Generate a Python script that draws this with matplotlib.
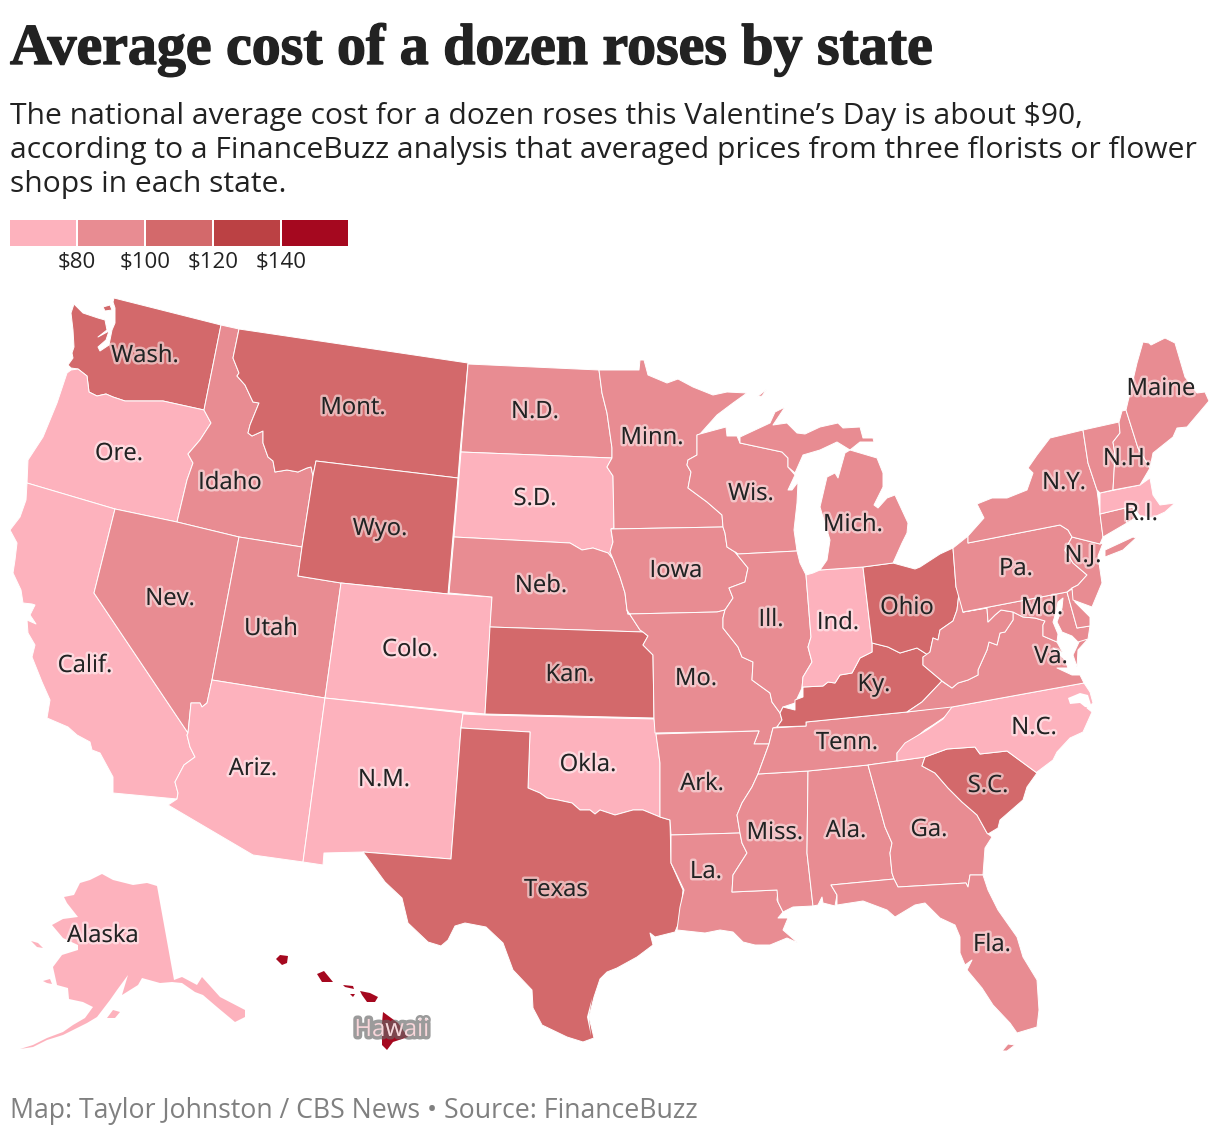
import matplotlib
matplotlib.use('Agg')
import matplotlib.pyplot as plt
import matplotlib.patheffects as pe

# legend
bin_colors = ['#fdb2bd', '#e88c92', '#d3696b', '#bb4144', '#a5081f']
bin_labels = ['$80', '$100', '$120', '$140']

# price bin per state, 0 = under $80 ... 4 = over $140
state_bins = {
    'WA': 2, 'OR': 0, 'CA': 0, 'ID': 1, 'NV': 1, 'UT': 1, 'AZ': 0, 'MT': 2, 'WY': 2, 'CO': 0, 'NM': 0,
    'ND': 1, 'SD': 0, 'NE': 1, 'KS': 2, 'OK': 0, 'TX': 2, 'MN': 1, 'IA': 1, 'MO': 1, 'AR': 1, 'LA': 1,
    'WI': 1, 'IL': 1, 'MS': 1, 'AL': 1, 'TN': 1, 'KY': 2, 'IN': 0, 'OH': 2, 'MI': 1, 'GA': 1, 'FL': 1,
    'SC': 2, 'NC': 0, 'VA': 1, 'WV': 1, 'MD': 1, 'DE': 1, 'PA': 1, 'NJ': 1, 'NY': 1, 'CT': 1, 'RI': 1,
    'MA': 0, 'VT': 1, 'NH': 1, 'ME': 1, 'AK': 0, 'HI': 4,
}

# state outlines, x/y in image pixels
WA = [(74,304),(71,313),(73,330),(74,347),(72,353),(73,358),(68,365),(71,368),(78,369),(87,376),(89,392),(97,396),(106,394),(113,397),(125,401),(137,401),(150,401),(163,401),(204,410),(221,325),(114,298),(113,302),(115,308),(115,323),(112,330),(109,345),(100,351),(98,347),(106,340),(109,331),(98,337),(107,330),(105,320),(98,318),(83,313)]
WA_ISLAND = [(103,307),(110,305),(112,310),(105,311)]
OR = [(71,370),(78,369),(87,376),(89,392),(97,396),(106,394),(113,397),(125,401),(137,401),(150,401),(163,401),(204,410),(211,423),(200,440),(188,454),(193,463),(187,480),(177,522),(115,509),(27,483),(28,460),(43,437),(57,403),(67,373)]
ID = [(221,325),(239,329),(233,358),(239,373),(237,376),(245,385),(253,402),(259,403),(250,425),(248,433),(252,436),(263,431),(263,443),(268,457),(273,461),(275,472),(287,470),(298,472),(307,468),(311,467),(313,476),(302,547),(239,537),(177,522),(187,480),(193,463),(188,454),(200,440),(211,423),(204,410)]
MT = [(239,329),(468,363),(460,452),(458,478),(316,461),(313,476),(311,467),(307,468),(298,472),(287,470),(275,472),(273,461),(268,457),(263,443),(263,431),(252,436),(248,433),(250,425),(259,403),(253,402),(245,385),(237,376),(239,373),(233,358)]
WY = [(316,461),(458,478),(448,594),(341,583),(298,576),(302,547),(313,476)]
NV = [(115,509),(177,522),(239,537),(212,680),(207,703),(202,707),(200,703),(191,703),(188,733),(94,593)]
UT = [(239,537),(302,547),(298,576),(341,583),(325,698),(212,680)]
CA = [(27,483),(115,509),(94,593),(188,733),(187,735),(190,747),(195,757),(184,765),(175,782),(178,793),(177,799),(113,793),(113,777),(100,753),(92,750),(90,742),(77,735),(68,727),(47,718),(50,700),(42,682),(32,657),(35,645),(28,633),(27,620),(36,624),(30,615),(35,605),(32,604),(23,603),(21,590),(13,573),(15,560),(17,543),(10,530),(20,517),(26,500)]
AZ = [(212,680),(325,698),(303,862),(253,855),(168,805),(177,799),(178,793),(175,782),(184,765),(195,757),(190,747),(187,735),(188,733),(191,703),(200,703),(202,707),(207,703)]
NM = [(325,698),(463,713),(461,728),(451,859),(363,852),(324,853),(323,865),(303,862)]
CO = [(341,583),(448,594),(492,597),(485,714),(325,698)]
KS = [(490,627),(643,632),(648,636),(643,645),(653,655),(654,718),(485,714)]
NE = [(454,537),(570,543),(582,550),(593,548),(608,553),(613,559),(620,577),(625,593),(627,610),(640,630),(643,632),(490,627),(492,597),(449,593)]
SD = [(461,452),(612,458),(607,467),(613,476),(614,528),(611,530),(613,542),(610,552),(613,559),(608,553),(593,548),(582,550),(570,543),(454,537)]
ND = [(468,364),(599,370),(602,393),(607,413),(612,448),(612,458),(461,452)]
MN = [(599,370),(639,370),(640,360),(644,360),(648,375),(667,383),(678,379),(693,387),(713,395),(727,392),(747,393),(733,403),(717,415),(700,434),(697,435),(697,455),(688,460),(687,465),(691,472),(688,488),(707,502),(722,515),(723,527),(611,529),(614,528),(613,476),(607,467),(612,458),(612,448),(607,413),(602,393)]
IA = [(611,529),(723,527),(725,533),(727,547),(735,552),(748,568),(745,582),(729,588),(733,598),(725,610),(717,612),(628,614),(627,610),(625,593),(620,577),(613,559),(610,552),(613,542)]
WI = [(697,435),(700,434),(726,427),(727,436),(737,436),(740,443),(782,452),(788,458),(788,467),(795,475),(788,490),(792,490),(798,482),(797,503),(794,530),(797,551),(738,554),(735,552),(727,547),(725,533),(723,527),(722,515),(707,502),(688,488),(691,472),(687,465),(688,460),(697,455)]
IL = [(738,554),(797,551),(800,563),(806,575),(811,637),(808,647),(812,662),(803,677),(802,688),(795,703),(783,707),(780,713),(772,702),(770,693),(752,680),(753,662),(742,657),(738,647),(723,628),(723,618),(725,610),(733,598),(729,588),(745,582),(748,568),(735,552)]
IN = [(806,575),(813,573),(820,570),(863,567),(872,643),(872,652),(860,658),(852,673),(840,675),(835,683),(828,682),(823,686),(803,687),(802,688),(803,677),(812,662),(808,647),(811,637)]
OH = [(863,567),(893,563),(915,569),(920,567),(940,554),(953,548),(956,587),(959,593),(957,610),(953,621),(940,630),(938,640),(933,638),(930,652),(928,655),(917,648),(900,653),(888,647),(872,643)]
KY = [(872,643),(888,647),(900,653),(917,648),(928,655),(923,657),(923,665),(942,681),(922,702),(907,712),(806,722),(806,726),(777,727),(782,720),(780,713),(783,707),(795,710),(795,700),(803,697),(803,687),(823,686),(828,682),(835,683),(840,675),(852,673),(860,658),(872,652)]
TN = [(773,728),(806,726),(806,722),(907,712),(952,706),(952,712),(933,725),(925,730),(907,745),(897,753),(897,761),(868,765),(808,771),(758,774),(765,755),(769,744)]
MO = [(628,614),(717,612),(725,610),(723,618),(723,628),(738,647),(742,657),(753,662),(752,680),(770,693),(772,702),(780,713),(782,720),(777,727),(773,728),(769,744),(754,744),(759,731),(655,733),(654,718),(653,655),(643,645),(648,636),(643,632),(640,630),(627,610)]
OK = [(463,714),(485,715),(654,719),(656,733),(660,763),(660,817),(643,810),(633,810),(615,815),(600,810),(595,814),(590,810),(580,810),(572,803),(558,800),(547,798),(540,793),(528,788),(530,732),(461,728)]
TX = [(461,728),(530,732),(528,788),(540,793),(547,798),(558,800),(572,803),(580,810),(590,810),(595,814),(600,810),(615,815),(633,810),(643,810),(660,817),(670,820),(671,863),(683,890),(680,920),(675,932),(655,937),(650,933),(653,945),(637,957),(617,968),(607,972),(600,979),(594,997),(589,1017),(594,1038),(583,1042),(567,1037),(542,1025),(533,1008),(532,990),(513,970),(503,943),(486,927),(465,923),(455,926),(448,940),(441,946),(428,942),(408,923),(402,898),(385,882),(363,852),(451,859)]
AR = [(656,734),(759,731),(754,744),(769,744),(765,755),(758,774),(752,787),(742,803),(737,815),(740,833),(671,835),(670,820),(660,817),(660,763)]
LA = [(671,835),(740,833),(742,843),(747,853),(733,875),(732,892),(778,890),(777,900),(783,912),(778,918),(788,918),(783,930),(798,943),(787,938),(770,945),(755,945),(743,942),(733,932),(720,930),(705,933),(677,930),(680,907),(684,890),(673,867),(671,863)]
MS = [(758,774),(808,771),(807,853),(813,906),(793,907),(783,912),(778,902),(777,890),(732,892),(733,875),(747,853),(742,843),(740,833),(737,815),(742,803),(752,787)]
AL = [(808,771),(868,765),(885,827),(892,843),(890,853),(892,873),(894,879),(831,885),(837,895),(835,906),(823,903),(822,897),(818,905),(813,906),(807,853)]
GA = [(868,765),(897,761),(925,757),(922,766),(935,773),(948,788),(962,802),(977,815),(987,833),(992,837),(985,848),(983,875),(970,875),(968,887),(966,883),(898,887),(894,879),(892,873),(890,853),(892,843),(885,827)]
FL = [(831,885),(894,879),(898,887),(966,883),(968,887),(970,875),(983,875),(988,890),(998,910),(1017,937),(1023,957),(1037,980),(1039,1010),(1037,1027),(1017,1033),(1010,1023),(993,1005),(982,988),(967,970),(972,960),(965,965),(960,953),(960,937),(955,925),(940,918),(925,903),(915,905),(895,917),(887,910),(863,901),(837,905),(837,895)]
FL_KEYS = [(1002,1051),(1008,1044),(1015,1045),(1007,1051)]
SC = [(922,766),(925,757),(947,749),(975,747),(980,754),(1007,751),(1037,773),(1027,787),(1023,800),(1000,820),(998,828),(988,834),(987,833),(977,815),(962,802),(948,788),(935,773)]
NC = [(897,761),(897,753),(905,743),(927,730),(943,719),(952,707),(1084,683),(1090,692),(1093,703),(1087,708),(1092,712),(1083,732),(1070,738),(1057,752),(1053,760),(1037,772),(1037,773),(1007,751),(980,754),(975,747),(947,749),(925,757)]
VA = [(907,712),(952,707),(1084,683),(1080,675),(1072,675),(1057,668),(1068,668),(1065,660),(1053,648),(1063,653),(1057,642),(1043,636),(1043,625),(1045,621),(1035,618),(1023,617),(1013,612),(1013,620),(1005,632),(1000,633),(997,645),(989,642),(987,650),(978,670),(978,675),(968,680),(958,683),(952,688),(943,682),(942,681),(922,702)]
VA_SHORE = [(1077,667),(1078,650),(1088,639),(1080,640),(1073,655)]
WV = [(923,657),(923,665),(942,681),(952,688),(958,683),(968,680),(978,675),(978,670),(987,650),(989,642),(997,645),(1000,633),(1005,632),(1013,620),(1013,612),(1001,610),(995,615),(988,622),(987,608),(963,612),(959,593),(957,610),(953,621),(940,630),(938,640),(933,638),(930,652)]
PA = [(953,548),(968,536),(968,543),(1060,525),(1068,530),(1072,537),(1065,550),(1073,563),(1087,575),(1078,585),(1072,588),(1067,592),(963,612),(956,587)]
NJ = [(1072,537),(1100,544),(1103,543),(1098,556),(1102,583),(1092,607),(1073,600),(1072,588),(1078,585),(1087,575),(1073,563),(1065,550)]
DE = [(1067,592),(1072,589),(1075,602),(1090,617),(1090,626),(1077,628)]
MD = [(963,612),(1067,592),(1077,628),(1090,626),(1088,639),(1078,642),(1072,636),(1062,632),(1057,622),(1062,608),(1063,598),(1058,602),(1056,612),(1053,622),(1058,634),(1057,642),(1043,636),(1043,625),(1045,621),(1035,618),(1023,617),(1013,612),(1001,610),(995,615),(988,622),(987,608)]
NY = [(968,536),(968,543),(1060,525),(1068,530),(1072,537),(1100,544),(1103,537),(1100,513),(1097,490),(1088,463),(1083,430),(1050,438),(1037,455),(1028,468),(1033,473),(1027,490),(1007,498),(992,498),(977,504),(984,518)]
LONG_ISLAND = [(1105,550),(1133,537),(1136,538),(1123,550),(1105,557)]
VT = [(1083,430),(1119,422),(1120,433),(1113,442),(1115,455),(1113,490),(1100,493),(1097,490),(1088,463)]
NH = [(1119,422),(1122,411),(1126,410),(1138,448),(1150,468),(1140,485),(1113,490),(1115,455),(1113,442),(1120,433)]
ME = [(1126,410),(1137,363),(1143,342),(1149,343),(1151,345),(1165,338),(1175,343),(1185,377),(1197,393),(1205,392),(1209,401),(1187,427),(1177,428),(1173,437),(1153,453),(1150,468),(1138,448)]
MA = [(1100,493),(1140,485),(1150,478),(1153,495),(1160,505),(1175,503),(1165,512),(1152,518),(1140,516),(1133,507),(1125,508),(1100,514)]
RI = [(1125,508),(1133,507),(1135,518),(1127,523)]
CT = [(1100,514),(1125,508),(1127,523),(1103,537)]
MI_UP = [(740,443),(740,437),(770,423),(775,412),(785,407),(773,425),(787,423),(797,433),(805,434),(820,427),(838,423),(843,428),(860,427),(863,438),(873,438),(874,442),(860,442),(850,450),(837,442),(820,450),(803,455),(795,473),(788,467),(788,458),(782,452)]
MI_LP = [(820,570),(863,567),(893,563),(902,543),(907,533),(908,523),(895,495),(887,498),(878,508),(874,505),(883,487),(883,473),(877,458),(850,450),(845,453),(838,478),(835,473),(827,477),(820,507),(830,540),(827,560)]
MI_ISLE = [(757,397),(767,389),(762,396)]
AK = [(157,886),(147,883),(133,885),(113,880),(102,874),(90,880),(80,883),(74,895),(64,897),(67,903),(78,917),(63,919),(52,925),(63,938),(78,945),(78,950),(62,955),(53,967),(57,985),(68,988),(69,999),(83,1002),(93,1007),(85,1018),(73,1025),(63,1032),(47,1038),(33,1045),(20,1049),(33,1047),(47,1040),(63,1035),(87,1023),(97,1017),(110,1000),(117,990),(128,975),(122,995),(138,985),(142,978),(160,983),(172,982),(182,983),(195,992),(203,995),(217,1007),(235,1022),(245,1017),(245,1010),(220,997),(202,977),(197,985),(182,977),(174,980)]
AK_ST_LAWRENCE = [(31,941),(38,943),(43,948),(37,947)]
AK_NUNIVAK = [(43,981),(50,979),(52,984),(47,983)]
AK_KODIAK = [(107,1018),(113,1010),(120,1012),(115,1018)]
HI_KAUAI = [(276,959),(280,955),(288,956),(287,963),(282,965)]
HI_OAHU = [(317,974),(324,971),(333,982),(322,982)]
HI_MOLOKAI = [(343,985),(353,986),(354,989),(345,987)]
HI_LANAI = [(350,994),(355,994),(353,997)]
HI_MAUI = [(360,991),(365,992),(370,993),(378,997),(375,1002),(367,1002),(362,995)]
HI_BIG = [(383,1012),(398,1023),(408,1037),(393,1042),(387,1050),(382,1045),(382,1023)]

state_shapes = {
    'WA': [WA, WA_ISLAND], 'OR': [OR], 'CA': [CA], 'ID': [ID], 'NV': [NV], 'UT': [UT], 'AZ': [AZ], 'MT': [MT], 'WY': [WY],
    'CO': [CO], 'NM': [NM], 'ND': [ND], 'SD': [SD], 'NE': [NE], 'KS': [KS], 'OK': [OK], 'TX': [TX], 'MN': [MN],
    'IA': [IA], 'MO': [MO], 'AR': [AR], 'LA': [LA], 'WI': [WI], 'IL': [IL], 'MS': [MS], 'AL': [AL], 'TN': [TN],
    'KY': [KY], 'IN': [IN], 'OH': [OH], 'MI': [MI_UP, MI_LP, MI_ISLE], 'GA': [GA], 'FL': [FL, FL_KEYS], 'SC': [SC],
    'NC': [NC], 'VA': [VA, VA_SHORE], 'WV': [WV], 'MD': [MD], 'DE': [DE], 'PA': [PA], 'NJ': [NJ],
    'NY': [NY, LONG_ISLAND], 'CT': [CT], 'RI': [RI], 'MA': [MA], 'VT': [VT], 'NH': [NH], 'ME': [ME],
    'AK': [AK, AK_ST_LAWRENCE, AK_NUNIVAK, AK_KODIAK],
    'HI': [HI_KAUAI, HI_OAHU, HI_MOLOKAI, HI_LANAI, HI_MAUI, HI_BIG],
}

# sounds and lagoons that cut into the land
PAMLICO = [(1068,698),(1080,693),(1088,695),(1092,708),(1085,707),(1080,703),(1070,704)]
LAGUNA = [(592,998),(587,1017),(591,1036),(589,1017)]

state_labels = ['Wash.', 'Ore.', 'Calif.', 'Idaho', 'Nev.', 'Utah', 'Ariz.', 'Mont.', 'Wyo.', 'Colo.', 'N.M.', 'N.D.',
                'S.D.', 'Neb.', 'Kan.', 'Okla.', 'Texas', 'Minn.', 'Iowa', 'Mo.', 'Ark.', 'La.', 'Wis.', 'Ill.',
                'Miss.', 'Ala.', 'Tenn.', 'Ky.', 'Ind.', 'Ohio', 'Mich.', 'Ga.', 'Fla.', 'S.C.', 'N.C.', 'Va.',
                'Md.', 'Pa.', 'N.J.', 'N.Y.', 'R.I.', 'N.H.', 'Maine', 'Alaska', 'Hawaii']
label_x = [145, 119, 85, 230, 170, 271, 253, 353, 380, 410, 384, 535, 535, 541, 570, 588, 556, 652, 676, 696, 702, 706, 751, 771,
           775, 846, 847, 874, 838, 907, 853, 929, 992, 988, 1034, 1051, 1042, 1016, 1083, 1064, 1141, 1127, 1161, 103, 392]
label_y = [355, 453, 665, 482, 598, 628, 768, 407, 528, 649, 779, 411, 498, 585, 674, 764, 889, 437, 570, 678, 783, 871, 493, 619,
           832, 830, 742, 684, 622, 607, 524, 829, 944, 785, 727, 656, 607, 568, 555, 482, 513, 458, 388, 935, 1029]

SUBTITLE = ['The national average cost for a dozen roses this Valentine\u2019s Day is about $90,',
            'according to a FinanceBuzz analysis that averaged prices from three florists or flower',
            'shops in each state.']
SUB_FONT = 'Open Sans'

fig = plt.figure(figsize=(12.2, 11.36), dpi=100)
ax = fig.add_axes([0, 0, 1, 1])
ax.set_xlim(0, 1220)
ax.set_ylim(1136, 0)
ax.axis('off')

for abbr, shapes in state_shapes.items():
    for shape in shapes:
        xs, ys = zip(*shape)
        lw = 0.7 if abbr not in ('HI', 'AK') else 0
        ax.fill(xs, ys, facecolor=bin_colors[state_bins[abbr]], edgecolor='white', linewidth=lw, joinstyle='round')

for water in (PAMLICO, LAGUNA):
    xs, ys = zip(*water)
    ax.fill(xs, ys, facecolor='white', edgecolor='none')

for lab, x, y in zip(state_labels, label_x, label_y):
    if lab == 'Hawaii':
        ax.text(x, y + 1, lab, ha='center', va='center', fontsize=17.2, family=SUB_FONT, color='#f7d6da',
                path_effects=[pe.withStroke(linewidth=5, foreground=(0.4, 0.4, 0.4, 0.65))])
    else:
        ax.text(x, y + 1, lab, ha='center', va='center', fontsize=17.2, family=SUB_FONT, color='#222222',
                path_effects=[pe.withStroke(linewidth=3.5, foreground=(1, 1, 1, 0.5))])

# legend swatches and tick labels
for i, col in enumerate(bin_colors):
    ax.add_patch(plt.Rectangle((10 + i * 68, 220), 66, 26, facecolor=col, edgecolor='none'))
for i, lab in enumerate(bin_labels):
    ax.text(77 + i * 68, 263, lab, ha='center', va='center', fontsize=16, family=SUB_FONT, color='#222222')

ax.text(10, 64, 'Average cost of a dozen roses by state', ha='left', va='baseline', fontsize=41.7,
        family='Liberation Serif', weight='bold', color='#222222',
        path_effects=[pe.withStroke(linewidth=1.0, foreground='#222222')])
for line, y in zip(SUBTITLE, [124, 158, 192]):
    ax.text(10, y, line, ha='left', va='baseline', fontsize=21.6, family=SUB_FONT, color='#222222')
ax.text(10, 1118, 'Map: Taylor Johnston / CBS News \u2022 Source: FinanceBuzz', ha='left', va='baseline',
        fontsize=19.2, family=SUB_FONT, color='#808080')

fig.savefig('out.png', dpi=100)
